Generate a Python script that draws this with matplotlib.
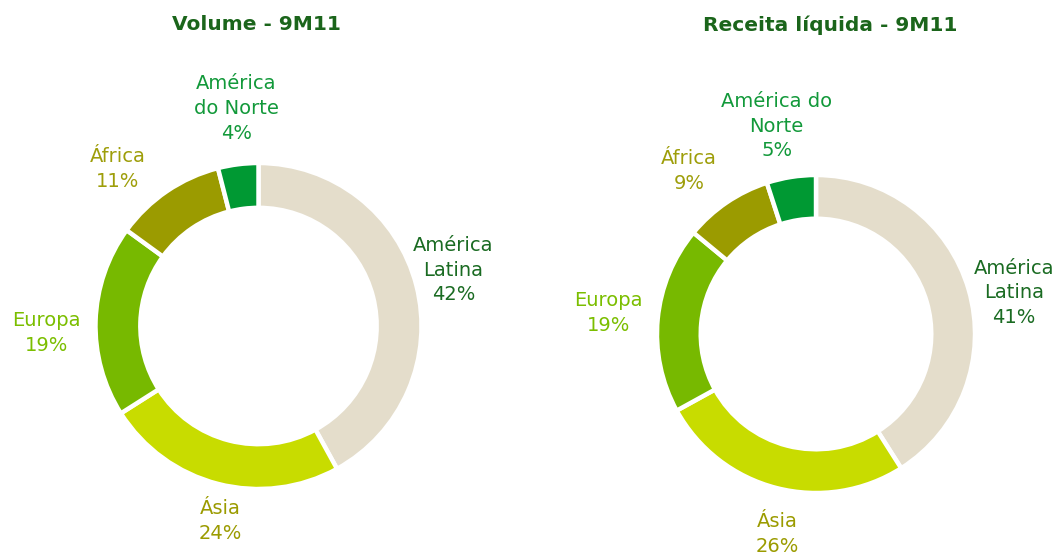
import numpy as np
import matplotlib.pyplot as plt

regions_left = ["América\nLatina", "Ásia", "Europa", "África", "América\ndo Norte"]
regions_right = ["América\nLatina", "Ásia", "Europa", "África", "América do\nNorte"]
volume = [42, 24, 19, 11, 4]
receita = [41, 26, 19, 9, 5]
titles = ["Volume - 9M11", "Receita líquida - 9M11"]

wedge_colors = ["#E4DDCB", "#C8DC00", "#77B900", "#9B9B00", "#009933"]
label_colors = ["#1A6B22", "#9B9B00", "#7BBE00", "#9E9E0A", "#12993A"]
title_color = "#1B651B"

# label placement: (distance factor, angle offset in degrees) per wedge
place_left = [(1.245, 1.6), (1.22, 3.4), (1.30, 3.7), (1.295, 7.7), (1.34, -1.4)]
place_right = [(1.27, -4.4), (1.28, 3.3), (1.31, -0.4), (1.30, 3.7), (1.33, 1.7)]


def draw_donut(ax, values, labels, place):
    wedges, _ = ax.pie(values, colors=wedge_colors, startangle=90, counterclock=False,
                       radius=1.0, wedgeprops=dict(width=0.275, edgecolor="white", linewidth=3.2))
    for w, lab, v, c, (d, off) in zip(wedges, labels, values, label_colors, place):
        ang = np.deg2rad((w.theta1 + w.theta2) / 2 + off)
        ax.text(d * np.cos(ang), d * np.sin(ang), f"{lab}\n{v}%", color=c,
                fontsize=14, ha="center", va="center", multialignment="center",
                linespacing=1.38)
    ax.set_xlim(-1, 1)
    ax.set_ylim(-1, 1)
    ax.set_aspect("equal")
    ax.axis("off")


def main():
    fig = plt.figure(figsize=(10.56, 5.54), dpi=100)
    ax1 = fig.add_axes([95.5 / 1056, 65 / 554, 326 / 1056, 326 / 554])
    ax2 = fig.add_axes([657 / 1056, 61 / 554, 318 / 1056, 318 / 554])
    draw_donut(ax1, volume, regions_left, place_left)
    draw_donut(ax2, receita, regions_right, place_right)
    fig.text(256 / 1056, 1 - 25 / 554, titles[0], color=title_color, fontsize=14.5,
             fontweight="bold", ha="center", va="center")
    fig.text(830 / 1056, 1 - 25 / 554, titles[1], color=title_color, fontsize=14.5,
             fontweight="bold", ha="center", va="center")
    fig.savefig("out.png", dpi=100)


if __name__ == "__main__":
    main()
